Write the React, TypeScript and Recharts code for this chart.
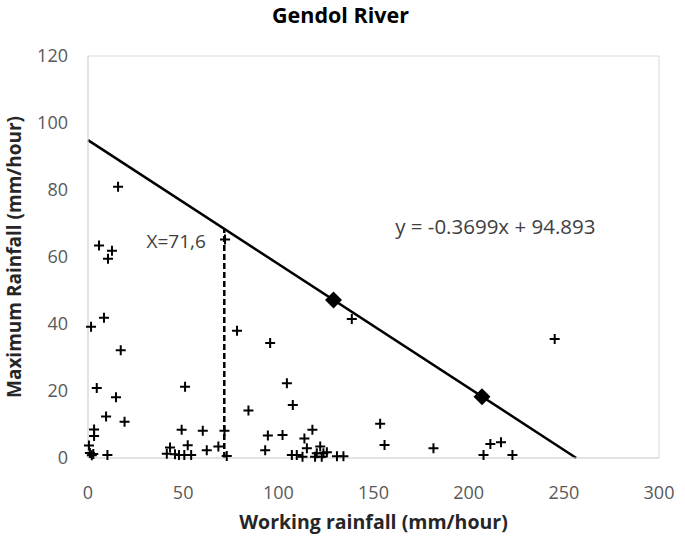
import { ScatterChart, Scatter, XAxis, YAxis, ReferenceLine, ReferenceArea, ReferenceDot } from 'recharts';

const workingRainfall = [
  15.8, 5.8, 12.6, 10.5, 8.4, 1.6, 17.2, 4.6, 14.7, 9.5, 19.2, 3.2, 3.2, 0.5, 1.0, 2.0, 2.8, 10.2,
  72.0, 78.3, 51.0, 49.2, 60.3, 71.7, 43.1, 52.4, 41.4, 45.7, 47.8, 50.6, 54.2, 62.4, 68.5, 72.9,
  95.7, 104.5, 107.6, 84.3, 138.6, 153.5, 155.8, 94.5, 102.2, 117.9, 113.7, 93.1, 107.1, 109.7,
  112.7, 115.0, 122.0, 120.2, 123.7, 125.5, 119.3, 122.8, 130.8, 134.2,
  245.2, 181.5, 211.4, 217.0, 207.8, 223.0,
];
const maxRainfall = [
  81, 63.4, 61.9, 59.5, 41.9, 39.2, 32.2, 20.9, 18.1, 12.4, 10.8, 8.5, 6.6, 3.7, 1.5, 0.8, 1.2, 0.9,
  65.2, 38.0, 21.3, 8.4, 8.1, 8.1, 3.1, 3.8, 1.3, 1.1, 0.9, 0.9, 0.9, 2.3, 3.4, 0.6,
  34.3, 22.3, 15.8, 14.2, 41.5, 10.2, 3.9, 6.7, 6.9, 8.4, 5.8, 2.3, 0.9, 0.9,
  0.4, 2.9, 3.4, 1.4, 1.4, 1.7, 0.4, 0.4, 0.5, 0.5,
  35.5, 2.9, 4.2, 4.7, 0.9, 0.9,
];
const markerX = [129, 207];
const markerY = [47.2, 18.3];

const xTicks = [0, 50, 100, 150, 200, 250, 300];
const yTicks = [0, 20, 40, 60, 80, 100, 120];

const slope = -0.3699;
const intercept = 94.893;
const workingX = 71.6;

const points = workingRainfall.map((x, i) => ({ x, y: maxRainfall[i] }));
const markers = markerX.map((x, i) => ({ x, y: markerY[i] }));

const FONT = '"Open Sans", sans-serif';

const Plus = (props: any) => {
  const { cx, cy } = props;
  return (
    <path d={`M${cx - 5},${cy} H${cx + 5} M${cx},${cy - 5} V${cy + 5}`} stroke="#000" strokeWidth={2} />
  );
};

const Diamond = (props: any) => {
  const { cx, cy } = props;
  const r = 8.5;
  return <path d={`M${cx},${cy - r} L${cx + r},${cy} L${cx},${cy + r} L${cx - r},${cy} Z`} fill="#000" />;
};

const App = () => {
  return (
    <div style={{ position: 'absolute', left: 0, top: 0, width: 685, height: 538, background: '#fff', fontFamily: FONT }}>
      <div
        style={{
          position: 'absolute',
          top: 0,
          left: 0,
          width: 685,
          textAlign: 'center',
          fontWeight: 700,
          fontSize: 21.5,
          lineHeight: '30px',
          color: '#000',
          marginLeft: -2,
        }}
      >
        Gendol River
      </div>
      <ScatterChart width={685} height={538} margin={{ top: 56, right: 26, bottom: 0, left: 0 }} style={{ fontFamily: FONT }}>
        <XAxis
          type="number"
          dataKey="x"
          domain={[0, 300]}
          ticks={xTicks}
          axisLine={{ stroke: '#d9d9d9' }}
          tickLine={false}
          tickMargin={22}
          tick={{ fill: '#595959', fontSize: 18 }}
          height={80}
          label={{ value: 'Working rainfall (mm/hour)', position: 'insideBottom', offset: 9, fill: '#262626', fontSize: 19.5, fontWeight: 700 }}
        />
        <YAxis
          type="number"
          dataKey="y"
          domain={[0, 120]}
          ticks={yTicks}
          axisLine={{ stroke: '#d9d9d9' }}
          tickLine={false}
          tickMargin={14}
          tick={{ fill: '#595959', fontSize: 18 }}
          width={88}
          label={{
            value: 'Maximum Rainfall (mm/hour)',
            angle: -90,
            position: 'insideLeft',
            offset: 14,
            fill: '#262626',
            fontSize: 19,
            fontWeight: 700,
            style: { textAnchor: 'middle' },
          }}
        />
        <ReferenceArea x1={0} x2={300} y1={0} y2={120} fill="none" stroke="#d9d9d9" strokeWidth={1} />
        <ReferenceLine
          segment={[{ x: 0, y: intercept }, { x: -intercept / slope, y: 0 }]}
          stroke="#000"
          strokeWidth={2.5}
        />
        <ReferenceLine
          segment={[{ x: workingX, y: 0 }, { x: workingX, y: slope * workingX + intercept }]}
          stroke="#000"
          strokeWidth={2.5}
          strokeDasharray="6 3"
        />
        <Scatter data={points} shape={Plus} isAnimationActive={false} />
        <Scatter data={markers} shape={Diamond} isAnimationActive={false} />
        <ReferenceDot x={46.3} y={64.6} r={0} stroke="none" label={{ value: 'X=71,6', position: 'center', fill: '#404040', fontSize: 19 }} />
        <ReferenceDot x={214} y={69} r={0} stroke="none" label={{ value: 'y = -0.3699x + 94.893', position: 'center', fill: '#404040', fontSize: 20.5 }} />
      </ScatterChart>
    </div>
  );
};

export default App;
